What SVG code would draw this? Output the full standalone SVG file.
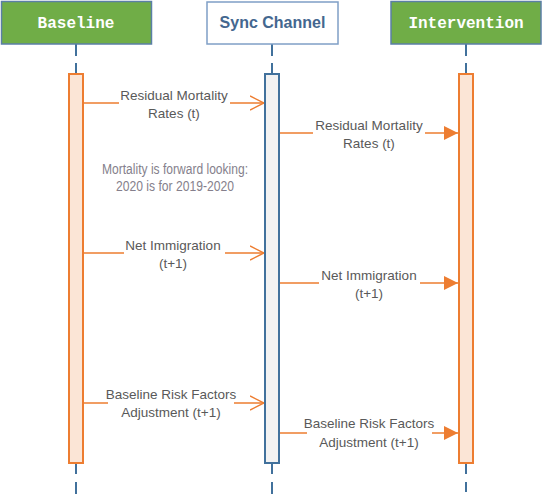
<svg xmlns="http://www.w3.org/2000/svg" width="542" height="504" viewBox="0 0 542 504">
<defs>
<style>
.hdr{fill:#70ad47;stroke:#5b7fa6;stroke-width:1.5}
.hdrw{fill:#ffffff;stroke:#7f9fc6;stroke-width:1.5}
.htxt{font-family:"Liberation Mono",monospace;font-weight:bold;font-size:16px;fill:#ffffff;text-anchor:middle}
.stxt{font-family:"Liberation Sans",Arial,sans-serif;font-weight:bold;font-size:16px;fill:#44678f;text-anchor:middle}
.life{stroke:#41719c;stroke-width:2;fill:none}
.barO{fill:#fbe5d6;stroke:#ed7d31;stroke-width:2}
.barB{fill:#f2f2f2;stroke:#41719c;stroke-width:2}
.msg{stroke:#ed7d31;stroke-width:1.5;fill:none}
.lbl{font-family:"Liberation Sans",Arial,sans-serif;font-size:13.5px;fill:#595959;text-anchor:middle}
.note{font-family:"Liberation Sans",Arial,sans-serif;font-size:14px;fill:#857f8c;text-anchor:middle}
</style>
<marker id="open" viewBox="0 0 14 16" refX="14" refY="8" markerWidth="14" markerHeight="16" markerUnits="userSpaceOnUse" orient="auto">
<path d="M0,1 L14,8 L0,15" fill="none" stroke="#ed7d31" stroke-width="1.5"/>
</marker>
<marker id="fill" viewBox="0 0 14 14" refX="14" refY="7" markerWidth="14" markerHeight="14" markerUnits="userSpaceOnUse" orient="auto">
<path d="M0,0 L14,7 L0,14 Z" fill="#ed7d31"/>
</marker>
</defs>
<rect width="542" height="504" fill="#ffffff"/>

<g id="lifelines">
<path class="life" d="M76,44 V56 M76,63 V74 M76,463 V474 M76,482 V494"/>
<path class="life" d="M272,44 V56 M272,63 V74 M272,463 V474 M272,482 V494"/>
<path class="life" d="M466,44 V56 M466,63 V74 M466,463 V474 M466,482 V492"/>
</g>

<g id="baseline">
<rect class="hdr" x="1.5" y="1.5" width="150" height="42.5"/>
<text class="htxt" x="76" y="28">Baseline</text>
<rect class="barO" x="69" y="74" width="14" height="389"/>
</g>

<g id="sync">
<rect class="hdrw" x="207" y="2" width="131" height="42"/>
<text class="stxt" x="272.5" y="28">Sync Channel</text>
<rect class="barB" x="265" y="74" width="14" height="389"/>
</g>

<g id="intervention">
<rect class="hdr" x="391" y="1.5" width="150" height="42.5"/>
<text class="htxt" x="466" y="28">Intervention</text>
<rect class="barO" x="459" y="74" width="14" height="389"/>
</g>

<g id="connectors">
<path class="msg" d="M83,103 H119 M230,103 H264" marker-end="url(#open)"/>
<path class="msg" d="M280,133 H313 M425,133 H458" marker-end="url(#fill)"/>
<path class="msg" d="M83,253 H124 M225,253 H264" marker-end="url(#open)"/>
<path class="msg" d="M280,283 H319 M420,283 H458" marker-end="url(#fill)"/>
<path class="msg" d="M83,403 H108 M234,403 H264" marker-end="url(#open)"/>
<path class="msg" d="M280,433 H307 M432,433 H458" marker-end="url(#fill)"/>
</g>

<g id="labels">
<text class="lbl" x="174" y="100">Residual Mortality</text>
<text class="lbl" x="174" y="118">Rates (t)</text>
<text class="lbl" x="369" y="130">Residual Mortality</text>
<text class="lbl" x="369" y="148">Rates (t)</text>
<text class="lbl" x="173" y="250">Net Immigration</text>
<text class="lbl" x="173" y="268">(t+1)</text>
<text class="lbl" x="369" y="280">Net Immigration</text>
<text class="lbl" x="369" y="298">(t+1)</text>
<text class="lbl" x="171" y="399">Baseline Risk Factors</text>
<text class="lbl" x="171" y="417">Adjustment (t+1)</text>
<text class="lbl" x="369" y="428">Baseline Risk Factors</text>
<text class="lbl" x="369" y="447">Adjustment (t+1)</text>
</g>

<g id="note">
<text class="note" x="175" y="174" textLength="146" lengthAdjust="spacingAndGlyphs">Mortality is forward looking:</text>
<text class="note" x="175" y="191" textLength="118" lengthAdjust="spacingAndGlyphs">2020 is for 2019-2020</text>
</g>
</svg>
